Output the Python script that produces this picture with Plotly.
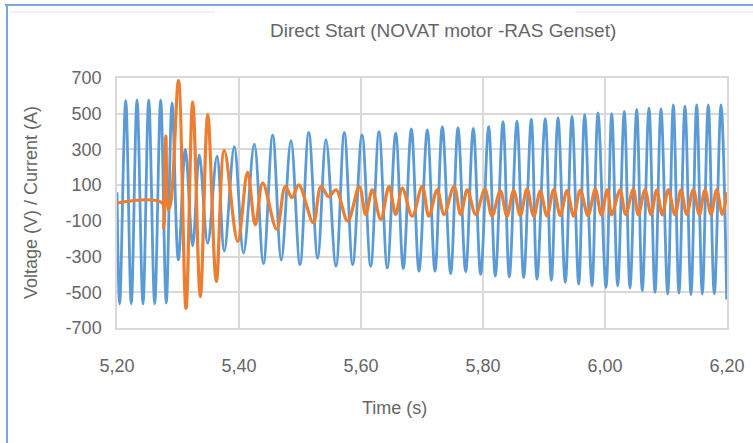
import plotly.graph_objects as go

# ---------------- data ----------------
# Voltage (V): successive extrema of the waveform, time in seconds
voltage_t = [5.2000, 5.2044, 5.2143, 5.2234, 5.2328, 5.2426, 5.2520, 5.2618, 5.2716, 5.2808,
             5.2902, 5.3005, 5.3120, 5.3241, 5.3349, 5.3487, 5.3639, 5.3759, 5.3923, 5.4074,
             5.4251, 5.4400, 5.4552, 5.4693, 5.4852, 5.5000, 5.5143, 5.5290, 5.5426, 5.5590,
             5.5726, 5.5864, 5.6016, 5.6159, 5.6295, 5.6431, 5.6569, 5.6693, 5.6825, 5.6951,
             5.7087, 5.7213, 5.7333, 5.7470, 5.7590, 5.7716, 5.7841, 5.7962, 5.8093, 5.8202,
             5.8328, 5.8431, 5.8557, 5.8667, 5.8792, 5.8885, 5.9021, 5.9120, 5.9230, 5.9349,
             5.9459, 5.9569, 5.9667, 5.9787, 5.9885, 6.0016, 6.0110, 6.0208, 6.0316, 6.0410,
             6.0520, 6.0611, 6.0721, 6.0820, 6.0918, 6.1028, 6.1120, 6.1213, 6.1311, 6.1410,
             6.1503, 6.1595, 6.1693, 6.1792, 6.1902, 6.1995]
voltage_v = [60, -565, 575, -565, 578, -565, 578, -565, 578, -560,
             560, -319, 300, -240, 270, -225, 262, -270, 315, -280,
             330, -340, 380, -320, 349, -345, 395, -309, 355, -354,
             395, -345, 382, -354, 400, -364, 391, -367, 415, -382,
             409, -382, 427, -396, 422, -385, 418, -400, 427, -409,
             455, -414, 458, -418, 469, -427, 473, -433, 476, -445,
             485, -454, 495, -464, 505, -473, 500, -464, 513, -476,
             524, -491, 531, -500, 527, -509, 549, -505, 542, -513,
             549, -509, 549, -509, 549, -540]

# Current (A): successive turning points of the waveform
current_t = [5.2000, 5.2740, 5.2765, 5.2800, 5.2840, 5.2885, 5.3008, 5.3131, 5.3241, 5.3366,
             5.3487, 5.3628, 5.3759, 5.3979, 5.4140, 5.4267, 5.4389, 5.4618, 5.4759,
             5.4869, 5.4979, 5.5218, 5.5344, 5.5470, 5.5590, 5.5782, 5.5972,
             5.6077, 5.6185, 5.6323, 5.6459, 5.6569, 5.6677, 5.6839, 5.7003, 5.7113, 5.7249,
             5.7361, 5.7525, 5.7634, 5.7743, 5.7880, 5.8030, 5.8148, 5.8284, 5.8393, 5.8503,
             5.8611, 5.8721, 5.8831, 5.8939, 5.9049, 5.9159, 5.9267, 5.9377, 5.9487, 5.9595,
             5.9721, 5.9841, 5.9939, 6.0038, 6.0110, 6.0246, 6.0339, 6.0464, 6.0546, 6.0656,
             6.0754, 6.0848, 6.0939, 6.1038, 6.1148, 6.1246, 6.1339, 6.1448, 6.1546, 6.1639,
             6.1738, 6.1831, 6.1923, 6.2000]
current_v = [0, 0, -140, 375, -40, 10, 685, -590, 565, -525,
             495, -440, 295, -215, 172, -122, 111, -147, 92,
             30, 101, -110, 92, 35, 74, -101, 92,
             -64, 74, -92, 92, -64, 83, -74, 92, -74, 74,
             -64, 92, -64, 74, -64, 76, -72, 68, -74, 70,
             -70, 78, -74, 66, -72, 74, -70, 70, -74, 72,
             -70, 76, -66, 74, -66, 72, -64, 76, -66, 74,
             -64, 72, -66, 74, -66, 72, -64, 74, -66, 72,
             -64, 74, -64, 60]

x_ticks = [5.20, 5.40, 5.60, 5.80, 6.00, 6.20]
x_tick_labels = ["5,20", "5,40", "5,60", "5,80", "6,00", "6,20"]
y_ticks = [-700, -500, -300, -100, 100, 300, 500, 700]
y_tick_labels = ["-700", "-500", "-300", "-100", "100", "300", "500", "700"]

title_text = "Direct Start (NOVAT motor -RAS Genset)"
x_title = "Time (s)"
y_title = "Voltage (V) / Current (A)"

# ---------------- figure ----------------
W, H = 753, 443
L, R, T, B = 117, 26, 78, 115
PW, PH = W - L - R, H - T - B


def px(xp):
    return (xp - L) / PW


def py(yp):
    return (H - B - yp) / PH


fig = go.Figure()
fig.add_trace(go.Scatter(x=voltage_t, y=voltage_v, mode="lines", name="Voltage",
                         line=dict(color="#5B9BD5", width=2.8, shape="spline", smoothing=1.0)))
fig.add_trace(go.Scatter(x=current_t, y=current_v, mode="lines", name="Current",
                         line=dict(color="#ED7D31", width=3.2, shape="spline", smoothing=1.0)))

grey = "#666666"
clear = "rgba(0,0,0,0)"
fig.update_layout(
    width=W, height=H,
    margin=dict(l=L, r=R, t=T, b=B, autoexpand=False),
    paper_bgcolor="white", plot_bgcolor="white",
    showlegend=False,
    font=dict(family="Liberation Sans, Arial, sans-serif", color=grey, size=18),
    xaxis=dict(range=[5.20, 6.20], tickvals=x_ticks, ticktext=x_tick_labels,
               showgrid=True, gridcolor="#D9D9D9", gridwidth=1.5, zeroline=False,
               showline=True, linecolor="#D9D9D9", linewidth=1.5, mirror=True,
               ticks="outside", ticklen=21, tickcolor=clear, tickfont=dict(size=18, color=grey)),
    yaxis=dict(range=[-700, 700], tickvals=y_ticks, ticktext=y_tick_labels,
               showgrid=True, gridcolor="#D9D9D9", gridwidth=1.5, zeroline=False,
               showline=True, linecolor="#D9D9D9", linewidth=1.5, mirror=True,
               ticks="outside", ticklen=10, tickcolor=clear, tickfont=dict(size=18, color=grey)),
)

fig.add_annotation(text=title_text, x=px(443), y=py(30), xref="paper", yref="paper",
                   showarrow=False, font=dict(size=19, color=grey), xanchor="center", yanchor="middle")
fig.add_annotation(text=x_title, x=px(394), y=py(408), xref="paper", yref="paper",
                   showarrow=False, font=dict(size=18, color=grey), xanchor="center", yanchor="middle")
fig.add_annotation(text=y_title, x=px(31), y=py(203), xref="paper", yref="paper", textangle=-90,
                   showarrow=False, font=dict(size=18, color=grey), xanchor="center", yanchor="middle")

# selection frame of the screenshot (blue top and left edges, faint grey inner line)
fig.add_shape(type="line", xref="paper", yref="paper", x0=px(5), x1=px(753), y0=py(5), y1=py(5),
              line=dict(color="#7AA7DC", width=2))
fig.add_shape(type="line", xref="paper", yref="paper", x0=px(7), x1=px(7), y0=py(5), y1=py(443),
              line=dict(color="#7AA7DC", width=2))
fig.add_shape(type="line", xref="paper", yref="paper", x0=px(9), x1=px(215), y0=py(12), y1=py(12),
              line=dict(color="#E4E4E4", width=1))
fig.add_shape(type="line", xref="paper", yref="paper", x0=px(575), x1=px(753), y0=py(12), y1=py(12),
              line=dict(color="#E4E4E4", width=1))

fig.write_html("out.html", config={"displayModeBar": False},
               post_script="document.body.style.margin='0';")
